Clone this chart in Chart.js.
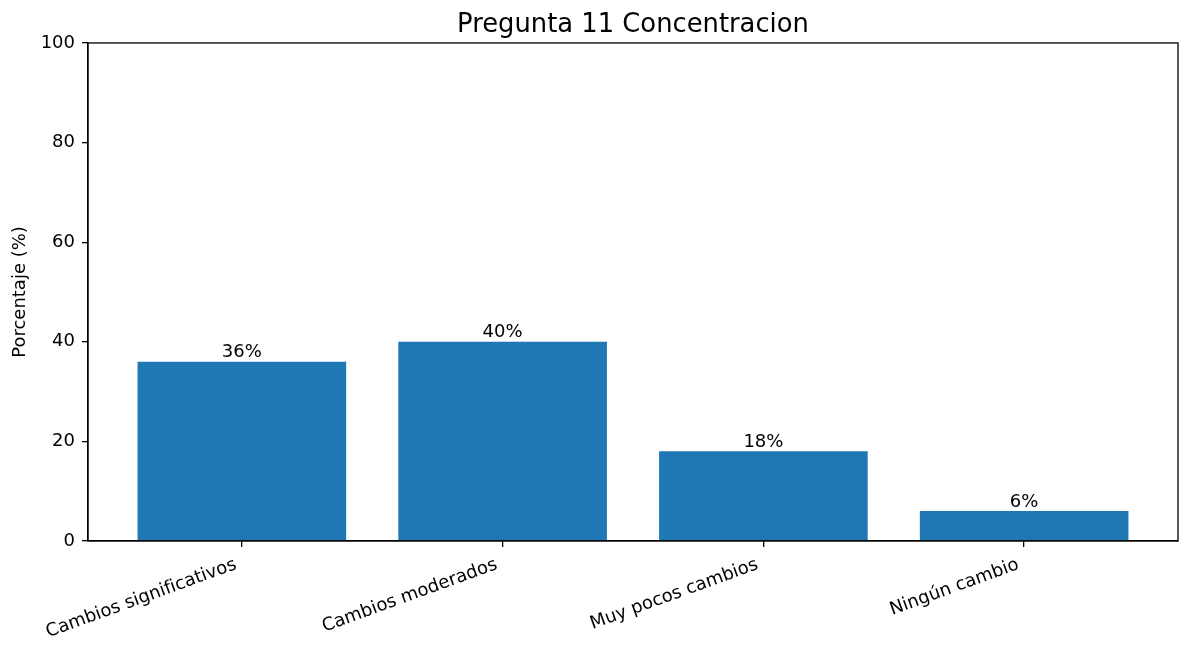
<!DOCTYPE html>
<html lang="es">
<head>
  <meta charset="UTF-8">
  <title>Pregunta 11 Concentracion</title>
  <script src="https://cdn.jsdelivr.net/npm/chart.js"></script>
  <style>
    html, body { margin: 0; padding: 0; background: #fff; }
    canvas { display: block; }
  </style>
</head>
<body>
<canvas id="myChart" width="1180" height="646"></canvas>

<script>
  const categories = ['Cambios significativos', 'Cambios moderados', 'Muy pocos cambios', 'Ningún cambio'];
  const percentages = [36, 40, 18, 6];
  const yTicks = [0, 20, 40, 60, 80, 100];

  const FONT = "'DejaVu Sans', sans-serif";

  // frame around the plot area, like matplotlib spines
  const framePlugin = {
    id: 'frame',
    afterDraw(chart) {
      const { ctx, chartArea: a } = chart;
      ctx.save();
      ctx.strokeStyle = '#000';
      ctx.lineWidth = 1.3;
      ctx.strokeRect(a.left, a.top, a.right - a.left, a.bottom - a.top);
      ctx.restore();
    }
  };

  // value labels above bars
  const barLabels = {
    id: 'barLabels',
    afterDatasetsDraw(chart) {
      const { ctx } = chart;
      const meta = chart.getDatasetMeta(0);
      ctx.save();
      ctx.font = '18px ' + FONT;
      ctx.fillStyle = '#000';
      ctx.textAlign = 'center';
      ctx.textBaseline = 'alphabetic';
      meta.data.forEach((bar, i) => {
        ctx.fillText(percentages[i] + '%', bar.x, bar.y - 4.5);
      });
      ctx.restore();
    }
  };

  const ctx = document.getElementById('myChart').getContext('2d');
  new Chart(ctx, {
    type: 'bar',
    data: {
      datasets: [{
        data: categories.map((c, i) => ({ x: i, y: percentages[i] })),
        backgroundColor: '#1f77b4',
        borderWidth: 0,
        categoryPercentage: 1,
        barPercentage: 0.8
      }]
    },
    options: {
      responsive: false,
      animation: false,
      layout: { padding: { left: 0, right: 2, top: 0, bottom: 0 } },
      plugins: {
        legend: { display: false },
        tooltip: { enabled: false },
        title: {
          display: true,
          fullSize: false,
          text: 'Pregunta 11 Concentracion',
          color: '#000',
          font: { family: FONT, size: 25.8, weight: 'normal' },
          padding: { top: 10, bottom: 2 }
        }
      },
      scales: {
        x: {
          type: 'linear',
          min: -0.59,
          max: categories.length - 1 + 0.59,
          offset: false,
          afterBuildTicks: (scale) => { scale.ticks = categories.map((c, i) => ({ value: i })); },
          afterFit: (scale) => { scale.height = 105; },
          grid: { display: true, offset: false, drawOnChartArea: false, drawTicks: true, tickLength: 6, color: '#000', lineWidth: 1.3 },
          border: { display: true, color: '#000', width: 1.3 },
          ticks: {
            autoSkip: false,
            minRotation: 20,
            maxRotation: 20,
            padding: 7,
            labelOffset: -6,
            color: '#000',
            font: { family: FONT, size: 18 },
            callback: (v) => categories[v]
          }
        },
        y: {
          min: 0,
          max: 100,
          afterBuildTicks: (scale) => { scale.ticks = yTicks.map(v => ({ value: v })); },
          afterFit: (scale) => { scale.width = 88; },
          grid: { display: true, drawOnChartArea: false, drawTicks: true, tickLength: 6, color: '#000', lineWidth: 1.3 },
          border: { display: true, color: '#000', width: 1.3 },
          ticks: {
            padding: 7,
            color: '#000',
            font: { family: FONT, size: 18 }
          },
          title: {
            display: true,
            text: 'Porcentaje (%)',
            color: '#000',
            font: { family: FONT, size: 18 },
            padding: { top: 10, bottom: 0 }
          }
        }
      }
    },
    plugins: [framePlugin, barLabels]
  });
</script>
</body>
</html>
